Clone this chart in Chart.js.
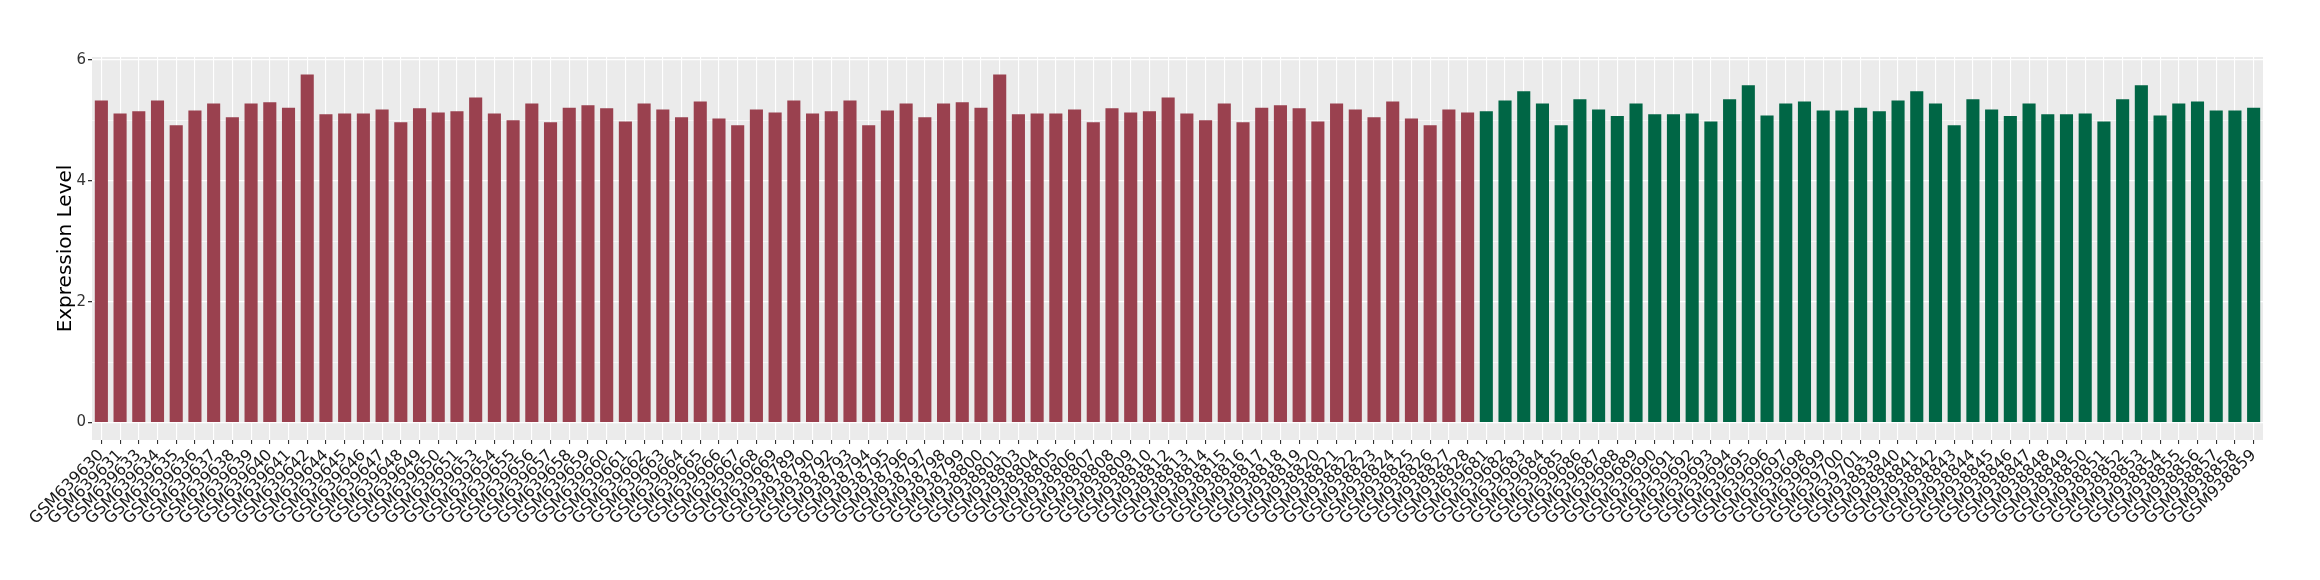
<!DOCTYPE html>
<html lang="en">
<head>
    <meta charset="UTF-8">
    <title>Expression Level</title>
    <style>
        html, body {
            margin: 0;
            padding: 0;
            background: #ffffff;
        }
        #barChart {
            display: block;
        }
    </style>
</head>
<body>
    <canvas id="barChart" width="2320" height="580"></canvas>

    <script src="https://cdn.jsdelivr.net/npm/chart.js"></script>
    <script>
        // samples of the first group (red)
        const redSamples = [
            'GSM639630', 'GSM639631', 'GSM639633', 'GSM639634', 'GSM639635', 'GSM639636', 'GSM639637', 'GSM639638',
            'GSM639639', 'GSM639640', 'GSM639641', 'GSM639642', 'GSM639644', 'GSM639645', 'GSM639646', 'GSM639647',
            'GSM639648', 'GSM639649', 'GSM639650', 'GSM639651', 'GSM639653', 'GSM639654', 'GSM639655', 'GSM639656',
            'GSM639657', 'GSM639658', 'GSM639659', 'GSM639660', 'GSM639661', 'GSM639662', 'GSM639663', 'GSM639664',
            'GSM639665', 'GSM639666', 'GSM639667', 'GSM639668', 'GSM639669',
            'GSM938789', 'GSM938790', 'GSM938792', 'GSM938793', 'GSM938794', 'GSM938795', 'GSM938796', 'GSM938797',
            'GSM938798', 'GSM938799', 'GSM938800', 'GSM938801', 'GSM938803', 'GSM938804', 'GSM938805', 'GSM938806',
            'GSM938807', 'GSM938808', 'GSM938809', 'GSM938810', 'GSM938812', 'GSM938813', 'GSM938814', 'GSM938815',
            'GSM938816', 'GSM938817', 'GSM938818', 'GSM938819', 'GSM938820', 'GSM938821', 'GSM938822', 'GSM938823',
            'GSM938824', 'GSM938825', 'GSM938826', 'GSM938827', 'GSM938828'
        ];
        const redLevels = [
            5.33, 5.115, 5.15, 5.33, 4.92, 5.165, 5.28, 5.05, 5.28, 5.30, 5.21, 5.76, 5.10, 5.115, 5.115, 5.18,
            4.97, 5.20, 5.13, 5.15, 5.38, 5.115, 5.00, 5.28, 4.97, 5.21, 5.25, 5.20, 4.98, 5.28, 5.18, 5.05,
            5.31, 5.03, 4.92, 5.18, 5.13,
            5.33, 5.115, 5.15, 5.33, 4.92, 5.165, 5.28, 5.05, 5.28, 5.30, 5.21, 5.76, 5.10, 5.115, 5.115, 5.18,
            4.97, 5.20, 5.13, 5.15, 5.38, 5.115, 5.00, 5.28, 4.97, 5.21, 5.25, 5.20, 4.98, 5.28, 5.18, 5.05,
            5.31, 5.03, 4.92, 5.18, 5.13
        ];

        // samples of the second group (green)
        const greenSamples = [
            'GSM639681', 'GSM639682', 'GSM639683', 'GSM639684', 'GSM639685', 'GSM639686', 'GSM639687', 'GSM639688',
            'GSM639689', 'GSM639690', 'GSM639691', 'GSM639692', 'GSM639693', 'GSM639694', 'GSM639695', 'GSM639696',
            'GSM639697', 'GSM639698', 'GSM639699', 'GSM639700', 'GSM639701',
            'GSM938839', 'GSM938840', 'GSM938841', 'GSM938842', 'GSM938843', 'GSM938844', 'GSM938845', 'GSM938846',
            'GSM938847', 'GSM938848', 'GSM938849', 'GSM938850', 'GSM938851', 'GSM938852', 'GSM938853', 'GSM938854',
            'GSM938855', 'GSM938856', 'GSM938857', 'GSM938858', 'GSM938859'
        ];
        const greenLevels = [
            5.15, 5.33, 5.48, 5.28, 4.92, 5.35, 5.18, 5.07, 5.28, 5.10, 5.10, 5.115, 4.98, 5.35, 5.58, 5.08,
            5.28, 5.31, 5.165, 5.165, 5.21,
            5.15, 5.33, 5.48, 5.28, 4.92, 5.35, 5.18, 5.07, 5.28, 5.10, 5.10, 5.115, 4.98, 5.35, 5.58, 5.08,
            5.28, 5.31, 5.165, 5.165, 5.21
        ];

        const yTicks = [0, 1, 2, 3, 4, 5, 6];

        const RED = '#9A414F';
        const GREEN = '#006645';

        const labels = redSamples.concat(greenSamples);
        const values = redLevels.concat(greenLevels);
        const colors = redSamples.map(() => RED).concat(greenSamples.map(() => GREEN));

        // grey ggplot-like panel behind the bars
        const panelBackground = {
            id: 'panelBackground',
            beforeDraw(chart) {
                const { ctx, chartArea } = chart;
                ctx.save();
                ctx.fillStyle = '#EBEBEB';
                ctx.fillRect(chartArea.left, chartArea.top, chartArea.right - chartArea.left, chartArea.bottom - chartArea.top);
                ctx.restore();
            }
        };

        const ctx = document.getElementById('barChart').getContext('2d');
        const barChart = new Chart(ctx, {
            type: 'bar',
            data: {
                labels: labels,
                datasets: [{
                    label: 'Expression Level',
                    data: values,
                    backgroundColor: colors,
                    borderWidth: 0,
                    barPercentage: 0.7,
                    categoryPercentage: 1.0
                }]
            },
            options: {
                responsive: false,
                animation: false,
                devicePixelRatio: 1,
                layout: {
                    padding: { top: 57, right: 57, bottom: 40, left: 54 }
                },
                plugins: {
                    legend: { display: false },
                    tooltip: { enabled: false }
                },
                scales: {
                    x: {
                        offset: true,
                        grid: {
                            offset: false,
                            color: '#FFFFFF',
                            lineWidth: 1.1,
                            tickColor: '#333333',
                            tickLength: 4
                        },
                        border: { display: false },
                        ticks: {
                            autoSkip: false,
                            maxRotation: 45,
                            minRotation: 45,
                            padding: 2,
                            color: '#1A1A1A',
                            font: { family: 'DejaVu Sans', size: 16 }
                        },
                        afterFit(scale) {
                            scale.height = 100;
                        }
                    },
                    y: {
                        min: -0.288,
                        max: 6.048,
                        afterBuildTicks(scale) {
                            scale.ticks = yTicks.map(v => ({ value: v }));
                        },
                        grid: {
                            color: '#FFFFFF',
                            lineWidth: (c) => (c.tick && c.tick.value % 2 === 0) ? 1.3 : 0.6,
                            tickColor: (c) => (c.tick && c.tick.value % 2 === 0) ? '#333333' : 'rgba(0,0,0,0)',
                            tickLength: 4
                        },
                        border: { display: false },
                        ticks: {
                            padding: 2,
                            color: '#333333',
                            font: { family: 'DejaVu Sans', size: 15 },
                            callback: (v) => (v % 2 === 0 ? v : '')
                        },
                        title: {
                            display: true,
                            text: 'Expression Level',
                            color: '#000000',
                            padding: 0,
                            font: { family: 'DejaVu Sans', size: 20 }
                        },
                        afterFit(scale) {
                            scale.width = 38;
                        }
                    }
                }
            },
            plugins: [panelBackground]
        });
    </script>
</body>
</html>
